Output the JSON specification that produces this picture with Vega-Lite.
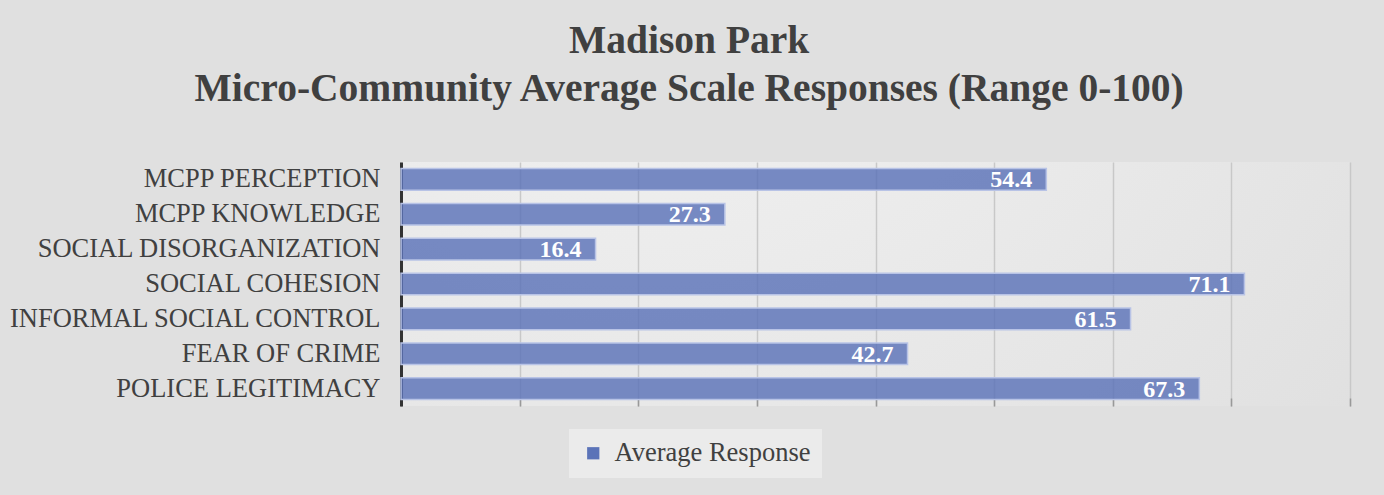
{
  "$schema": "https://vega.github.io/schema/vega-lite/v6.json",
  "width": 949,
  "height": 244,
  "autosize": {"type": "none"},
  "padding": {"left": 401, "top": 162, "right": 34, "bottom": 89},
  "background": "#e0e0e0",
  "view": {
    "stroke": null,
    "fill": {
      "gradient": "radial",
      "x1": 0.25, "y1": 0.0, "r1": 0,
      "x2": 0.25, "y2": 0.0, "r2": 1.0,
      "stops": [
        {"offset": 0, "color": "#f6f6f6"},
        {"offset": 1, "color": "#e0e0e0"}
      ]
    }
  },
  "title": {
    "text": ["Madison Park", "Micro-Community Average Scale Responses (Range 0-100)"],
    "font": "Liberation Serif",
    "fontSize": 39.5,
    "fontWeight": "bold",
    "color": "#404040",
    "anchor": "middle",
    "frame": "bounds",
    "lineHeight": 48,
    "offset": 53,
    "dx": 10
  },
  "data": {
    "values": [
      {"category": "MCPP PERCEPTION", "value": 54.4, "series": "Average Response"},
      {"category": "MCPP KNOWLEDGE", "value": 27.3, "series": "Average Response"},
      {"category": "SOCIAL DISORGANIZATION", "value": 16.4, "series": "Average Response"},
      {"category": "SOCIAL COHESION", "value": 71.1, "series": "Average Response"},
      {"category": "INFORMAL SOCIAL CONTROL", "value": 61.5, "series": "Average Response"},
      {"category": "FEAR OF CRIME", "value": 42.7, "series": "Average Response"},
      {"category": "POLICE LEGITIMACY", "value": 67.3, "series": "Average Response"}
    ]
  },
  "encoding": {
    "y": {
      "field": "category",
      "type": "nominal",
      "sort": null,
      "scale": {"paddingInner": 0.38, "paddingOuter": 0.19},
      "axis": {
        "title": null,
        "domain": true,
        "domainColor": "#333333",
        "domainWidth": 3,
        "ticks": false,
        "labelFont": "Liberation Serif",
        "labelFontSize": 26.5,
        "labelColor": "#404040",
        "labelPadding": 21,
        "labelLimit": 500
      }
    },
    "x": {
      "field": "value",
      "type": "quantitative",
      "scale": {"domain": [0, 80], "nice": false},
      "axis": {
        "title": null,
        "labels": false,
        "domain": false,
        "grid": true,
        "gridColor": "#c8c8c8",
        "gridWidth": 1.5,
        "values": [0, 10, 20, 30, 40, 50, 60, 70, 80],
        "ticks": true,
        "tickSize": -8,
        "tickColor": "#999999",
        "tickWidth": 1.5
      }
    }
  },
  "layer": [
    {
      "mark": {"type": "bar", "fillOpacity": 0.82, "stroke": "#b8c3e6", "strokeWidth": 1.5},
      "encoding": {
        "color": {
          "field": "series",
          "type": "nominal",
          "scale": {"range": ["#5b73b8"]},
          "legend": {
            "title": null,
            "orient": "none",
            "legendX": 168,
            "legendY": 267,
            "symbolType": "square",
            "symbolSize": 150,
            "symbolStrokeWidth": 0,
            "labelFont": "Liberation Serif",
            "labelFontSize": 26.5,
            "labelColor": "#404040",
            "labelLimit": 400,
            "fillColor": "#ebebeb",
            "padding": 11,
            "labelOffset": 8
          }
        }
      }
    },
    {
      "mark": {
        "type": "text",
        "align": "right",
        "baseline": "middle",
        "dx": -14,
        "dy": 1,
        "color": "white",
        "font": "Liberation Serif",
        "fontSize": 24,
        "fontWeight": "bold"
      },
      "encoding": {
        "text": {"field": "value", "type": "quantitative", "format": ".1f"}
      }
    }
  ]
}
